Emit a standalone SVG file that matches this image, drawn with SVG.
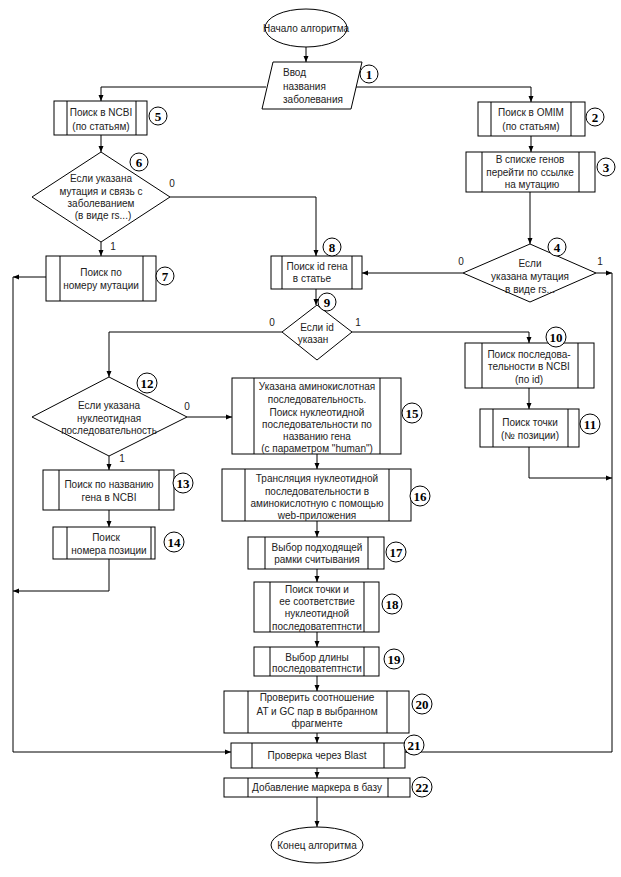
<svg xmlns="http://www.w3.org/2000/svg" width="621" height="877" viewBox="0 0 621 877">
<defs>
<marker id="ah" markerWidth="6" markerHeight="6" refX="6" refY="3" orient="auto" markerUnits="userSpaceOnUse"><path d="M0,0.5 L6,3 L0,5.5 z" fill="#000"/></marker>
<style>
.s{fill:#fff;stroke:#000;stroke-width:1}
.l{fill:none;stroke:#000;stroke-width:1}
.c{fill:none;stroke:#000;stroke-width:1;marker-end:url(#ah)}
.t{font-family:"Liberation Sans",Arial,sans-serif;font-size:10px;fill:#222;text-anchor:middle}
.ts{font-family:"Liberation Sans",Arial,sans-serif;font-size:10px;fill:#222}
.n{font-family:"Liberation Serif","Times New Roman",serif;font-size:13px;font-weight:bold;fill:#000;text-anchor:middle}
.nc{fill:#fff;stroke:#000;stroke-width:1}
</style>
</defs>
<rect width="621" height="877" fill="#fff"/>
<g id="connectors">
<path class="c" d="M306,47 V62"/>
<path class="c" d="M266,87 H101 V101"/>
<path class="c" d="M356,87 H531 V102"/>
<path class="c" d="M531,136 V152"/>
<path class="c" d="M101,135 V152"/>
<path class="c" d="M530,192 V244"/>
<path class="c" d="M170,197 H316 V256"/>
<path class="c" d="M101,242 V256"/>
<path class="c" d="M463,273 H362"/>
<path class="c" d="M596,273 H612"/>
<path class="c" d="M612,273 V752 H405"/>
<path class="c" d="M316,289 V305"/>
<path class="c" d="M282,332 H109 V377"/>
<path class="c" d="M352,332 H529 V343"/>
<path class="c" d="M529,388 V409"/>
<path class="c" d="M529,447 V478 H612"/>
<path class="c" d="M187,417 H232"/>
<path class="c" d="M109,456 V470"/>
<path class="c" d="M109,510 V527"/>
<path class="c" d="M109,559 V591 H13"/>
<path class="c" d="M46,277 H13"/>
<path class="c" d="M13,277 V752 H231"/>
<path class="c" d="M317,454 V469"/>
<path class="c" d="M317,521 V537"/>
<path class="c" d="M317,569 V582"/>
<path class="c" d="M317,632 V647"/>
<path class="c" d="M317,676 V691"/>
<path class="c" d="M317,733 V743"/>
<path class="c" d="M317,768 V778"/>
<path class="c" d="M317,797 V827"/>
</g>
<g id="start">
<ellipse class="s" cx="306" cy="28" rx="41" ry="19"/>
<text class="t" x="306" y="32">Начало алгоритма</text>
</g>
<g id="n1">
<polygon class="s" points="273,62 362,62 351,109 262,109"/>
<text class="ts" x="283" y="76">Ввод</text>
<text class="ts" x="283" y="90">названия</text>
<text class="ts" x="283" y="103">заболевания</text>
<circle class="nc" cx="369" cy="74" r="9"/><text class="n" x="369" y="79">1</text>
</g>
<g id="n5">
<rect class="s" x="54" y="101" width="93" height="34"/>
<path class="l" d="M67,101 V135 M136,101 V135"/>
<text class="t" x="101" y="116">Поиск в NCBI</text>
<text class="t" x="101" y="130">(по статьям)</text>
<circle class="nc" cx="158" cy="116" r="9"/><text class="n" x="158" y="121">5</text>
</g>
<g id="n2">
<rect class="s" x="478" y="102" width="107" height="34"/>
<path class="l" d="M491,102 V136 M571,102 V136"/>
<text class="t" x="531" y="116">Поиск в OMIM</text>
<text class="t" x="531" y="130">(по статьям)</text>
<circle class="nc" cx="595" cy="117" r="9"/><text class="n" x="595" y="122">2</text>
</g>
<g id="n3">
<rect class="s" x="466" y="152" width="129" height="40"/>
<path class="l" d="M482,152 V192 M579,152 V192"/>
<text class="t" x="530" y="163">В списке генов</text>
<text class="t" x="530" y="176">перейти по ссылке</text>
<text class="t" x="532" y="188">на мутацию</text>
<circle class="nc" cx="606" cy="167" r="9"/><text class="n" x="606" y="172">3</text>
</g>
<g id="n6">
<polygon class="s" points="101,152 170,197 101,242 32,197"/>
<text class="t" x="101" y="182">Если указана</text>
<text class="t" x="101" y="195">мутация и связь с</text>
<text class="t" x="101" y="207">заболеванием</text>
<text class="t" x="103" y="219">(в виде rs...)</text>
<circle class="nc" cx="139" cy="162" r="9"/><text class="n" x="139" y="167">6</text>
<text class="t" x="172" y="187">0</text>
<text class="t" x="113" y="250">1</text>
</g>
<g id="n7">
<rect class="s" x="46" y="256" width="110" height="45"/>
<path class="l" d="M60,256 V301 M143,256 V301"/>
<text class="t" x="101" y="276">Поиск по</text>
<text class="t" x="101" y="289">номеру мутации</text>
<circle class="nc" cx="165" cy="276" r="9"/><text class="n" x="165" y="281">7</text>
</g>
<g id="n8">
<rect class="s" x="271" y="256" width="91" height="33"/>
<path class="l" d="M282,256 V289 M352,256 V289"/>
<text class="t" x="317" y="270">Поиск id гена</text>
<text class="t" x="312" y="282">в статье</text>
<circle class="nc" cx="332" cy="247" r="9"/><text class="n" x="332" y="252">8</text>
</g>
<g id="n4">
<polygon class="s" points="530,244 596,273 530,302 463,273"/>
<text class="t" x="530" y="267">Если</text>
<text class="t" x="530" y="280">указана мутация</text>
<text class="t" x="530" y="293">в виде rs...</text>
<circle class="nc" cx="557" cy="247" r="9"/><text class="n" x="557" y="252">4</text>
<text class="t" x="461" y="265">0</text>
<text class="t" x="600" y="265">1</text>
</g>
<g id="n9">
<polygon class="s" points="317,305 352,332 317,360 282,332"/>
<text class="t" x="317" y="331">Если id</text>
<text class="t" x="313" y="343">указан</text>
<circle class="nc" cx="327" cy="302" r="9"/><text class="n" x="327" y="307">9</text>
<text class="t" x="272" y="326">0</text>
<text class="t" x="358" y="326">1</text>
</g>
<g id="n10">
<rect class="s" x="465" y="343" width="129" height="45"/>
<path class="l" d="M482,343 V388 M578,343 V388"/>
<text class="t" x="529" y="358">Поиск последова-</text>
<text class="t" x="529" y="370">тельности в NCBI</text>
<text class="t" x="529" y="383">(по id)</text>
<circle class="nc" cx="556" cy="337" r="10"/><text class="n" x="556" y="342">10</text>
</g>
<g id="n11">
<rect class="s" x="480" y="409" width="99" height="38"/>
<path class="l" d="M493,409 V447 M568,409 V447"/>
<text class="t" x="530" y="426">Поиск точки</text>
<text class="t" x="530" y="439">(№ позиции)</text>
<circle class="nc" cx="590" cy="424" r="10"/><text class="n" x="590" y="429">11</text>
</g>
<g id="n12">
<polygon class="s" points="109,377 187,417 109,456 32,417"/>
<text class="t" x="109" y="409">Если указана</text>
<text class="t" x="109" y="422">нуклеотидная</text>
<text class="t" x="109" y="434">последовательность</text>
<circle class="nc" cx="147" cy="383" r="10"/><text class="n" x="147" y="388">12</text>
<text class="t" x="187" y="410">0</text>
<text class="t" x="122" y="462">1</text>
</g>
<g id="n15">
<rect class="s" x="232" y="378" width="169" height="76"/>
<path class="l" d="M254,378 V454 M380,378 V454"/>
<text class="t" x="317" y="390">Указана аминокислотная</text>
<text class="t" x="317" y="403">последовательность.</text>
<text class="t" x="317" y="416">Поиск нуклеотидной</text>
<text class="t" x="317" y="428">последовательности по</text>
<text class="t" x="317" y="440">названию гена</text>
<text class="t" x="317" y="452">(с параметром "human")</text>
<circle class="nc" cx="412" cy="413" r="10"/><text class="n" x="412" y="418">15</text>
</g>
<g id="n13">
<rect class="s" x="43" y="470" width="131" height="40"/>
<path class="l" d="M59,470 V510 M159,470 V510"/>
<text class="t" x="109" y="488">Поиск по названию</text>
<text class="t" x="109" y="501">гена в NCBI</text>
<circle class="nc" cx="183" cy="483" r="10"/><text class="n" x="183" y="488">13</text>
</g>
<g id="n14">
<rect class="s" x="53" y="527" width="102" height="32"/>
<path class="l" d="M67,527 V559 M151,527 V559"/>
<text class="t" x="106" y="541">Поиск</text>
<text class="t" x="109" y="554">номера позиции</text>
<circle class="nc" cx="174" cy="542" r="10"/><text class="n" x="174" y="547">14</text>
</g>
<g id="n16">
<rect class="s" x="222" y="469" width="189" height="52"/>
<path class="l" d="M245,469 V521 M389,469 V521"/>
<text class="t" x="317" y="482">Трансляция нуклеотидной</text>
<text class="t" x="317" y="495">последовательности в</text>
<text class="t" x="317" y="507">аминокислотную с помощью</text>
<text class="t" x="317" y="519">web-приложения</text>
<circle class="nc" cx="420" cy="496" r="10"/><text class="n" x="420" y="501">16</text>
</g>
<g id="n17">
<rect class="s" x="248" y="537" width="136" height="32"/>
<path class="l" d="M265,537 V569 M368,537 V569"/>
<text class="t" x="317" y="551">Выбор подходящей</text>
<text class="t" x="317" y="563">рамки считывания</text>
<circle class="nc" cx="396" cy="552" r="10"/><text class="n" x="396" y="557">17</text>
</g>
<g id="n18">
<rect class="s" x="254" y="582" width="125" height="50"/>
<path class="l" d="M270,582 V632 M364,582 V632"/>
<text class="t" x="317" y="593">Поиск точки и</text>
<text class="t" x="317" y="605">ее соответствие</text>
<text class="t" x="317" y="617">нуклеотидной</text>
<text class="t" x="317" y="630">последоватептнсти</text>
<circle class="nc" cx="392" cy="604" r="10"/><text class="n" x="392" y="609">18</text>
</g>
<g id="n19">
<rect class="s" x="254" y="647" width="125" height="29"/>
<path class="l" d="M270,647 V676 M364,647 V676"/>
<text class="t" x="317" y="661">Выбор длины</text>
<text class="t" x="317" y="672">последоватептнсти</text>
<circle class="nc" cx="394" cy="659" r="10"/><text class="n" x="394" y="664">19</text>
</g>
<g id="n20">
<rect class="s" x="224" y="691" width="185" height="42"/>
<path class="l" d="M248,691 V733 M387,691 V733"/>
<text class="t" x="317" y="701">Проверить соотношение</text>
<text class="t" x="317" y="715">AT и GC пар в выбранном</text>
<text class="t" x="317" y="727">фрагменте</text>
<circle class="nc" cx="422" cy="704" r="10"/><text class="n" x="422" y="709">20</text>
</g>
<g id="n21">
<rect class="s" x="231" y="743" width="174" height="25"/>
<path class="l" d="M252,743 V768 M384,743 V768"/>
<text class="t" x="317" y="759">Проверка через Blast</text>
<circle class="nc" cx="414" cy="745" r="10"/><text class="n" x="414" y="750">21</text>
</g>
<g id="n22">
<rect class="s" x="224" y="778" width="186" height="19"/>
<path class="l" d="M248,778 V797 M388,778 V797"/>
<text class="t" x="317" y="791">Добавление маркера в базу</text>
<circle class="nc" cx="422" cy="787" r="10"/><text class="n" x="422" y="792">22</text>
</g>
<g id="end">
<ellipse class="s" cx="317" cy="845" rx="46" ry="18"/>
<text class="t" x="317" y="849">Конец алгоритма</text>
</g>
</svg>
